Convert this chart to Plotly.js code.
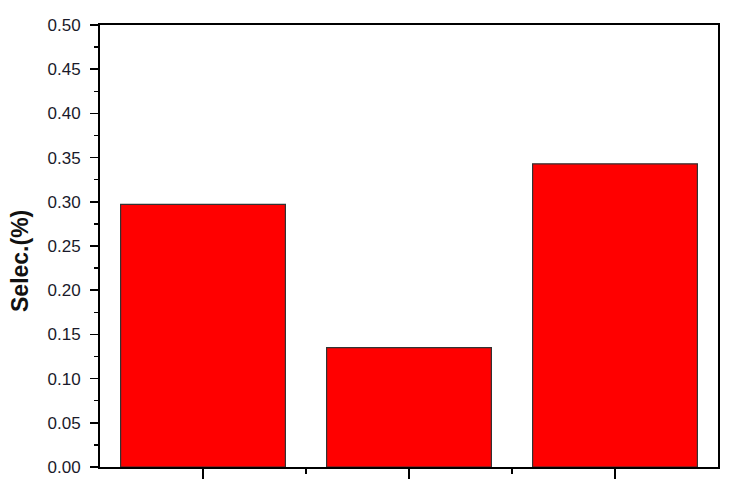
<!DOCTYPE html>
<html><head><meta charset="utf-8">
<script src="https://cdn.plot.ly/plotly-3.0.1.min.js"></script>
<style>html,body{margin:0;padding:0;background:#fff;}#chart{width:742px;height:484px;}</style>
</head><body><div id="chart"></div>
<script>
const categories = ["Sample 1", "Sample 2", "Sample 3"];
const selectivity = [0.297, 0.135, 0.343];
const yTickVals = [0, 0.05, 0.10, 0.15, 0.20, 0.25, 0.30, 0.35, 0.40, 0.45, 0.50];
const yTickText = ["0.00","0.05","0.10","0.15","0.20","0.25","0.30","0.35","0.40","0.45","0.50"];
const yTitle = "Selec.(%)";

const xIdx = categories.map((c, i) => i);
const xMinor = categories.slice(1).map((c, i) => i + 0.5);

const trace = {
  type: 'bar',
  x: xIdx,
  y: selectivity,
  text: categories,
  hoverinfo: 'text+y',
  textposition: 'none',
  width: 0.8,
  marker: {color: '#ff0000', line: {color: '#333333', width: 1.2}}
};

const layout = {
  width: 742, height: 484,
  margin: {l: 100, r: 24, t: 25, b: 17, pad: 0},
  paper_bgcolor: '#ffffff', plot_bgcolor: '#ffffff',
  showlegend: false,
  font: {family: 'Liberation Sans, Arial, sans-serif', color: '#000'},
  xaxis: {
    range: [-0.5, 2.5],
    tickmode: 'array', tickvals: xIdx, showticklabels: false,
    ticks: 'outside', ticklen: 10, tickwidth: 1.5, tickcolor: '#000',
    minor: {tickmode: 'array', tickvals: xMinor, ticks: 'outside', ticklen: 5, tickwidth: 1.5, tickcolor: '#000'},
    showline: true, linecolor: '#000', linewidth: 2, mirror: true,
    showgrid: false, zeroline: false, fixedrange: true
  },
  yaxis: {
    range: [0, 0.5],
    tickmode: 'array', tickvals: yTickVals, ticktext: yTickText,
    ticks: 'outside', ticklen: 8, tickwidth: 1.5, tickcolor: '#000',
    ticklabelstandoff: 6,
    minor: {dtick: 0.025, tick0: 0, ticks: 'outside', ticklen: 4, tickwidth: 1.5, tickcolor: '#000'},
    tickfont: {size: 17, color: '#1a1a2a'},
    showline: true, linecolor: '#000', linewidth: 2, mirror: true,
    showgrid: false, zeroline: false, fixedrange: true
  },
  annotations: [{
    text: '<b>' + yTitle + '</b>',
    xref: 'paper', yref: 'paper',
    x: (20 - 100) / 618, y: (467 - 261) / 442,
    xanchor: 'center', yanchor: 'middle',
    textangle: -90, showarrow: false,
    font: {size: 23, color: '#111', family: 'Liberation Sans, Arial, sans-serif'}
  }]
};

Plotly.newPlot('chart', [trace], layout, {displayModeBar: false, staticPlot: true});
</script></body></html>
